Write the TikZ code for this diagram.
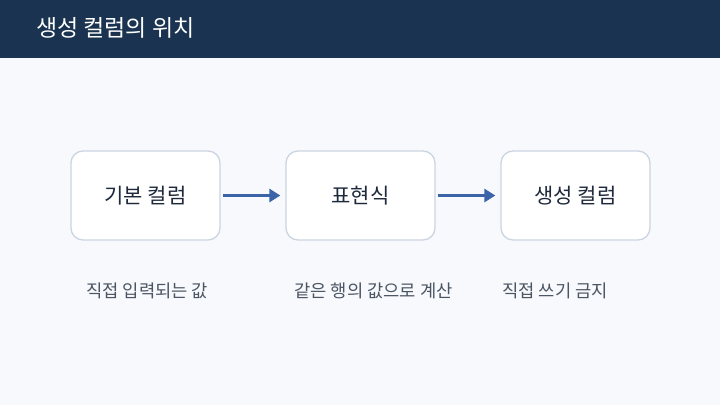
\documentclass[tikz,border=0pt]{standalone}
\usepackage{fontspec}
\setmainfont{Noto Sans CJK KR}
\usetikzlibrary{arrows.meta}
\definecolor{bar}{HTML}{1A3350}
\definecolor{bg}{HTML}{F7F9FC}
\definecolor{boxline}{HTML}{CBD5E1}
\definecolor{boxtext}{HTML}{1E293B}
\definecolor{captext}{HTML}{4B5563}
\definecolor{arrowc}{HTML}{3A63A8}
\tikzset{
  stagebox/.style={draw=boxline, line width=1.3pt, fill=white, rounded corners=12pt,
    minimum width=149pt, minimum height=89pt, inner sep=0pt, text=boxtext,
    font=\fontsize{21}{25}\selectfont},
  caption/.style={anchor=west, inner sep=0pt, text=captext, font=\fontsize{17.7}{21}\selectfont},
  flow/.style={draw=arrowc, line width=3pt, -{Triangle[length=11pt,width=13pt]}, shorten >=5pt, shorten <=2pt}
}
\begin{document}
\begin{tikzpicture}[x=1pt,y=-1pt]
\useasboundingbox (0,0) rectangle (720,405);
\fill[bg] (0,0) rectangle (720,405);
\fill[bar] (0,0) rectangle (720,58);
\node[anchor=west, inner sep=0pt, text=white, font=\fontsize{23}{27}\selectfont] (title) at (36,28) {생성 컬럼의 위치};
\node[stagebox] (b1) at (145.5,195.5) {기본 컬럼};
\node[stagebox] (b2) at (360.5,195.5) {표현식};
\node[stagebox] (b3) at (575.5,195.5) {생성 컬럼};
\draw[flow] (b1) -- (b2);
\draw[flow] (b2) -- (b3);
\node[caption] (c1) at (86,291) {직접 입력되는 값};
\node[caption] (c2) at (294,291) {같은 행의 값으로 계산};
\node[caption] (c3) at (502,291) {직접 쓰기 금지};
\end{tikzpicture}
\end{document}
